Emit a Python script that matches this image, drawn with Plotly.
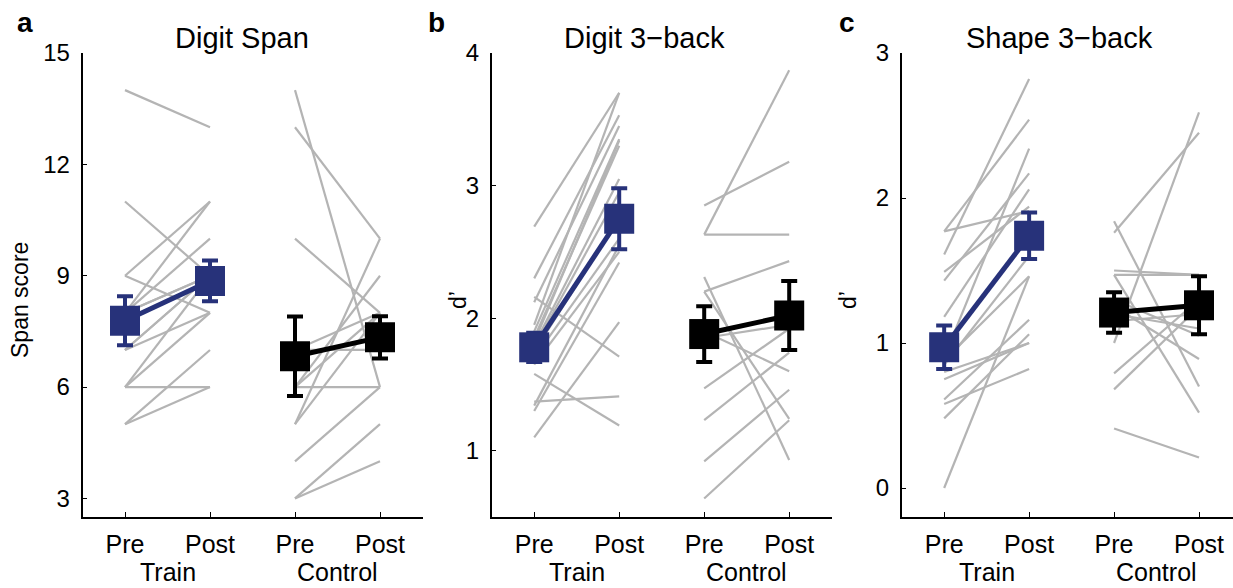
import plotly.graph_objects as go

# ---------------- data ----------------
conditions = ["Pre", "Post", "Pre", "Post"]
groups = ["Train", "Control"]
titles = ["Digit Span", "Digit 3\u2212back", "Shape 3\u2212back"]
panel_letters = ["a", "b", "c"]
ytitles = ["Span score", "d\u2019", "d\u2019"]

# Panel a: Digit Span
a_train_pre = [14, 11, 9, 9, 8, 8, 8, 7, 7, 6, 6, 5, 5, 7, 6, 8]
a_train_post = [13, 9, 11, 8, 11, 10, 9, 8, 9, 8, 6, 7, 6, 9, 9, 9]
a_ctrl_pre = [14, 13, 10, 5, 5, 6, 6, 6, 7, 7, 4, 3, 3]
a_ctrl_post = [6, 10, 8, 10, 8, 9, 6, 8, 8, 7, 6, 5, 4]
a_means = [7.79, 8.86, 6.83, 7.34]
a_err = [0.66, 0.55, 1.07, 0.57]

# Panel b: Digit 3-back
b_train_pre = [2.69, 2.30, 2.16, 2.12, 1.95, 1.90, 1.85, 1.82, 1.80, 1.78, 1.75, 1.70, 1.65, 1.58, 1.37, 1.34, 1.30, 1.10]
b_train_post = [3.70, 3.53, 1.71, 3.45, 3.70, 3.35, 3.30, 3.34, 3.05, 2.95, 2.75, 2.60, 2.50, 1.19, 1.41, 2.55, 2.42, 1.97]
b_ctrl_pre = [2.85, 2.63, 2.63, 2.31, 2.20, 2.20, 1.90, 1.85, 1.47, 1.23, 0.92, 0.64]
b_ctrl_post = [3.18, 3.87, 2.63, 0.93, 1.24, 2.43, 1.60, 1.95, 1.92, 1.74, 1.46, 1.23]
b_means = [1.78, 2.75, 1.88, 2.02]
b_err = [0.11, 0.23, 0.21, 0.26]

# Panel c: Shape 3-back
c_train_pre = [1.77, 1.77, 1.61, 1.49, 1.43, 1.18, 0.90, 0.85, 0.80, 0.75, 0.61, 0.58, 0.48, 0.00, 0.88]
c_train_post = [1.91, 2.54, 2.82, 1.94, 2.17, 2.06, 2.34, 1.60, 1.00, 1.00, 1.16, 0.82, 1.06, 1.46, 1.46]
c_ctrl_pre = [1.84, 1.76, 1.50, 1.47, 1.47, 1.00, 0.79, 0.68, 0.41, 1.25, 1.20, 1.30, 1.15]
c_ctrl_post = [0.70, 2.45, 1.47, 1.47, 0.52, 2.59, 1.30, 1.25, 0.21, 0.89, 1.10, 1.05, 1.20]
c_means = [0.97, 1.74, 1.21, 1.26]
c_err = [0.15, 0.16, 0.14, 0.20]

y_ticks = [[3, 6, 9, 12, 15], [1, 2, 3, 4], [0, 1, 2, 3]]
y_ranges = [[2.5, 15], [0.5, 4], [-0.2, 3]]

panels = [
    (a_train_pre, a_train_post, a_ctrl_pre, a_ctrl_post, a_means, a_err),
    (b_train_pre, b_train_post, b_ctrl_pre, b_ctrl_post, b_means, b_err),
    (c_train_pre, c_train_post, c_ctrl_pre, c_ctrl_post, c_means, c_err),
]

# ---------------- style ----------------
W, H = 1233, 588
FONT = "Liberation Sans, Arial, sans-serif"
GREY = "#b4b4b4"
BLUE = "#27327a"
BLACK = "#000000"
x_px = [(82.5, 422.5), (491.7, 831.7), (901.7, 1233.0)]
x_ranges = [[0.5, 4.5], [0.5, 4.5], [0.5, 4.4]]
y_top_px, y_bot_px = 53, 517
ydom = [1 - y_bot_px / H, 1 - y_top_px / H]
title_cx = [241.5, 644, 1059]
letter_cx = [25, 437, 847]
ytitle_cx = [20, 458, 848]

fig = go.Figure()

def pairs(pre, post, x0, x1):
    xs, ys = [], []
    for p, q in zip(pre, post):
        xs += [x0, x1, None]
        ys += [p, q, None]
    return xs, ys

for i, (tp, tq, cp, cq, m, e) in enumerate(panels):
    xa = "x" if i == 0 else f"x{i+1}"
    ya = "y" if i == 0 else f"y{i+1}"
    xs, ys = pairs(tp, tq, 1, 2)
    xs2, ys2 = pairs(cp, cq, 3, 4)
    fig.add_trace(go.Scatter(x=xs + xs2, y=ys + ys2, mode="lines",
                             line=dict(color=GREY, width=2.2),
                             xaxis=xa, yaxis=ya, showlegend=False, hoverinfo="skip"))
    for (xx, col, sl) in [([1, 2], BLUE, slice(0, 2)), ([3, 4], BLACK, slice(2, 4))]:
        fig.add_trace(go.Scatter(
            x=xx, y=m[sl], mode="lines+markers",
            line=dict(color=col, width=5),
            marker=dict(symbol="square", size=30, color=col),
            error_y=dict(type="data", array=e[sl], color=col, thickness=4, width=8),
            xaxis=xa, yaxis=ya, showlegend=False))

layout = dict(
    width=W, height=H, autosize=False,
    margin=dict(l=0, r=0, t=0, b=0, pad=0, autoexpand=False),
    paper_bgcolor="white", plot_bgcolor="white",
    font=dict(family=FONT, color="black", size=23),
    showlegend=False,
)
annotations = []
for i in range(3):
    sx = "" if i == 0 else str(i + 1)
    layout[f"xaxis{sx}"] = dict(
        domain=[x_px[i][0] / W, x_px[i][1] / W], range=x_ranges[i],
        tickvals=[1, 2, 3, 4], ticktext=conditions,
        showline=True, linecolor="black", linewidth=1.5,
        ticks="inside", ticklen=5, tickwidth=1.2, tickcolor="black",
        showgrid=False, zeroline=False, anchor="y" + sx, automargin=False,
        tickfont=dict(size=25), ticklabelstandoff=4, fixedrange=True)
    layout[f"yaxis{sx}"] = dict(
        domain=ydom, range=y_ranges[i], tickvals=y_ticks[i],
        showline=True, linecolor="black", linewidth=1.5,
        ticks="inside", ticklen=5, tickwidth=1.2, tickcolor="black",
        showgrid=False, zeroline=False, anchor="x" + sx, automargin=False,
        tickfont=dict(size=24), ticklabelstandoff=6, fixedrange=True)
    xr = "x" + sx
    annotations.append(dict(text=groups[0], x=1.5, xref=xr, y=1 - 572 / H, yref="paper",
                            showarrow=False, font=dict(size=25), xanchor="center", yanchor="middle"))
    annotations.append(dict(text=groups[1], x=3.5, xref=xr, y=1 - 572 / H, yref="paper",
                            showarrow=False, font=dict(size=25), xanchor="center", yanchor="middle"))
    annotations.append(dict(text=titles[i], x=title_cx[i] / W, xref="paper", y=1 - 38 / H, yref="paper",
                            showarrow=False, font=dict(size=29), xanchor="center", yanchor="middle"))
    annotations.append(dict(text="<b>" + panel_letters[i] + "</b>", x=letter_cx[i] / W, xref="paper",
                            y=1 - 22 / H, yref="paper",
                            showarrow=False, font=dict(size=28), xanchor="center", yanchor="middle"))
    annotations.append(dict(text=ytitles[i], x=ytitle_cx[i] / W, xref="paper", y=1 - 300 / H, yref="paper",
                            showarrow=False, font=dict(size=23), textangle=-90,
                            xanchor="center", yanchor="middle"))
layout["annotations"] = annotations
fig.update_layout(**layout)

fig.write_html(
    "out.html",
    config={"displayModeBar": False},
    post_script="document.documentElement.style.margin='0';document.documentElement.style.overflow='hidden';"
                "document.body.style.margin='0';document.body.style.padding='0';document.body.style.overflow='hidden';",
)
